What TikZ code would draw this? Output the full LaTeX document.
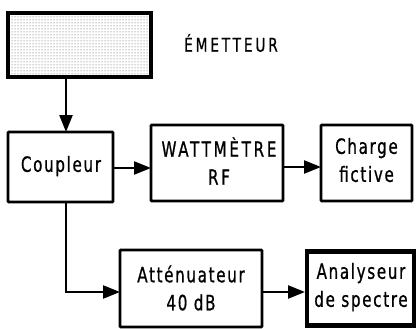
\documentclass[tikz,border=0pt]{standalone}
\usepackage{fontspec}
\setmainfont{DejaVu Sans Condensed}[LetterSpace=8,FakeStretch=0.8,FakeBold=0.8]
\usetikzlibrary{arrows.meta,patterns}
\begin{document}
\begin{tikzpicture}[x=1pt,y=-1pt,
  blk/.style={draw,line width=2.8pt,rounded corners=0.8pt},
  heavy/.style={draw,line width=4.6pt},
  lbl/.style={font=\fontsize{21}{28}\selectfont,align=center,inner sep=0pt},
  caps/.style={font=\fontsize{21}{28}\selectfont\addfontfeatures{LetterSpace=13}},
  flow/.style={line width=2.4pt,-{Triangle[length=17pt,width=13pt]}}]
  \useasboundingbox (0,0) rectangle (418,329);

  % transmitter block, dotted fill
  \path[pattern=dots,pattern color=black!70] (8,13) rectangle (151,77);
  \draw[heavy] (8,13) rectangle (151,77);
  \coordinate (emit) at (66,77);
  \node[lbl,font=\fontsize{19}{20}\selectfont\addfontfeatures{LetterSpace=15}] (emtxt) at (231,43) {ÉMETTEUR};

  % coupler
  \draw[blk] (8,132) rectangle (113,202);
  \node[lbl] (coup) at (61,166) {Coupleur};
  \coordinate (coupN) at (66,132);
  \coordinate (coupE) at (113,168);
  \coordinate (coupS) at (66,202);

  % RF wattmeter
  \draw[blk] (151,125) rectangle (283,201);
  \node[lbl,caps] (watt) at (219,161) {WATTMÈTRE\\RF};
  \coordinate (wattW) at (151,168);
  \coordinate (wattE) at (283,167);

  % dummy load
  \draw[blk] (321,125) rectangle (412,201);
  \node[lbl] (load) at (366.5,160) {Charge\\fictive};
  \coordinate (loadW) at (321,167);

  % attenuator
  \draw[blk] (120,250) rectangle (262,327);
  \node[lbl] (att) at (191,288) {Atténuateur\\40 dB};
  \coordinate (attW) at (120,292);
  \coordinate (attE) at (262,292);

  % spectrum analyser
  \draw[heavy] (307,251.5) rectangle (414,325.5);
  \node[lbl] (anal) at (361,287) {Analyseur\\de spectre};
  \coordinate (analW) at (305,292);

  % signal flow
  \draw[flow] (emit) -- (coupN);
  \draw[flow] (coupE) -- (wattW);
  \draw[flow] (wattE) -- (loadW);
  \draw[flow] (coupS) |- (attW);
  \draw[flow] (attE) -- (analW);
\end{tikzpicture}
\end{document}
